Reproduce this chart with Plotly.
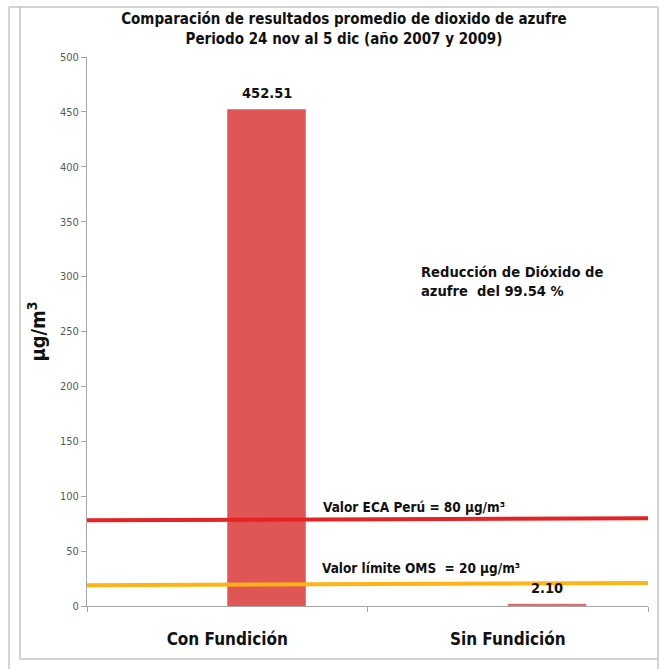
import plotly.graph_objects as go

categories = ["Con Fundición", "Sin Fundición"]
values = [452.51, 2.10]
value_labels = ["452.51", "2.10"]
y_ticks = [0, 50, 100, 150, 200, 250, 300, 350, 400, 450, 500]

# reference lines as drawn (slightly slanted in the original), left end -> right end
eca_y = [78, 80]
oms_y = [19, 21]
line_x = [-0.5, 1.5]

FONT = "Liberation Sans Narrow, DejaVu Sans Condensed, Arial Narrow, sans-serif"
BAR_COLORS = ["#E05656", "#D9706E"]

x_pos = list(range(len(categories)))

fig = go.Figure()
fig.add_trace(go.Bar(
    x=x_pos, y=values, width=0.28, offset=0,
    marker=dict(color=BAR_COLORS, line=dict(width=0)),
    hoverinfo="skip",
))
fig.add_trace(go.Scatter(x=line_x, y=eca_y, mode="lines",
                         line=dict(color="#E52224", width=4), hoverinfo="skip"))
fig.add_trace(go.Scatter(x=line_x, y=oms_y, mode="lines",
                         line=dict(color="#FDB414", width=4), hoverinfo="skip"))

annotations = []
for xi, v, t in zip(x_pos, values, value_labels):
    annotations.append(dict(x=xi + 0.14, y=v, text=f"<b>{t}</b>", showarrow=False,
                            xanchor="center", yanchor="bottom", yshift=6,
                            font=dict(family=FONT, size=14.5, color="#111111")))
annotations += [
    dict(x=0.335, y=90, text="<b>Valor ECA Perú = 80 µg/m³</b>", showarrow=False,
         xanchor="left", yanchor="middle", font=dict(family=FONT, size=13.5, color="#111111")),
    dict(x=0.33, y=34.5, text="<b>Valor límite OMS  = 20 µg/m³</b>", showarrow=False,
         xanchor="left", yanchor="middle", font=dict(family=FONT, size=13.5, color="#111111")),
    dict(x=0.685, y=296, text="<b>Reducción de Dióxido de<br>azufre  del 99.54 %</b>",
         showarrow=False, xanchor="left", yanchor="middle", align="left",
         font=dict(family=FONT, size=14.6, color="#111111")),
]

frame = "#C4C4C4"
x_l2, x_l1, x_r = -0.139, -0.1194, 1.0178
y_top, y_bot, y_end = 1.0911, -0.0965, -0.12
shapes = [
    dict(type="line", xref="paper", yref="paper", x0=x_l2, x1=x_r, y0=y_top, y1=y_top,
         line=dict(color=frame, width=1.5)),
    dict(type="line", xref="paper", yref="paper", x0=x_l1, x1=x_r, y0=y_bot, y1=y_bot,
         line=dict(color=frame, width=1.5)),
    dict(type="line", xref="paper", yref="paper", x0=x_l1, x1=x_l1, y0=y_bot, y1=y_top,
         line=dict(color=frame, width=1.5)),
    dict(type="line", xref="paper", yref="paper", x0=x_l2, x1=x_l2, y0=y_end, y1=y_top,
         line=dict(color=frame, width=1.5)),
    dict(type="line", xref="paper", yref="paper", x0=x_r, x1=x_r, y0=y_end, y1=y_top,
         line=dict(color=frame, width=1.5)),
]

fig.update_layout(
    width=664, height=669,
    paper_bgcolor="white", plot_bgcolor="white",
    margin=dict(l=87, r=16, t=57, b=63),
    showlegend=False,
    font=dict(family=FONT, color="#595959"),
    title=dict(
        text="<b>Comparación de resultados promedio de dioxido de azufre<br>Periodo 24 nov al 5 dic (año 2007 y 2009)</b>",
        x=0.518, xanchor="center", y=0.964, yanchor="top",
        font=dict(family=FONT, size=15, color="#111111"),
    ),
    xaxis=dict(
        range=[-0.5, 1.5], tickvals=x_pos, ticktext=[f"<b>{c}</b>" for c in categories],
        ticks="", ticklabelstandoff=18,
        tickfont=dict(family=FONT, size=17, color="#111111"),
        showline=True, linecolor="#A6A6A6", linewidth=1,
        showgrid=False, zeroline=False,
        minor=dict(tickvals=[-0.5, 0.5, 1.5], ticks="outside", ticklen=5,
                   tickcolor="#A6A6A6", showgrid=False),
    ),
    yaxis=dict(
        range=[0, 500], tickvals=y_ticks, ticks="outside", ticklen=5,
        tickcolor="#A6A6A6", showline=True, linecolor="#A6A6A6", linewidth=1,
        showgrid=False, zeroline=False,
        tickfont=dict(family=FONT, size=11, color="#595959"),
        title=dict(text="<b>µg/m<sup>3</sup></b>", standoff=8,
                   font=dict(family=FONT, size=20, color="#111111")),
    ),
    annotations=annotations,
    shapes=shapes,
)

fig.write_html("out.html", config={"displayModeBar": False},
               post_script="document.body.style.margin='0';")
